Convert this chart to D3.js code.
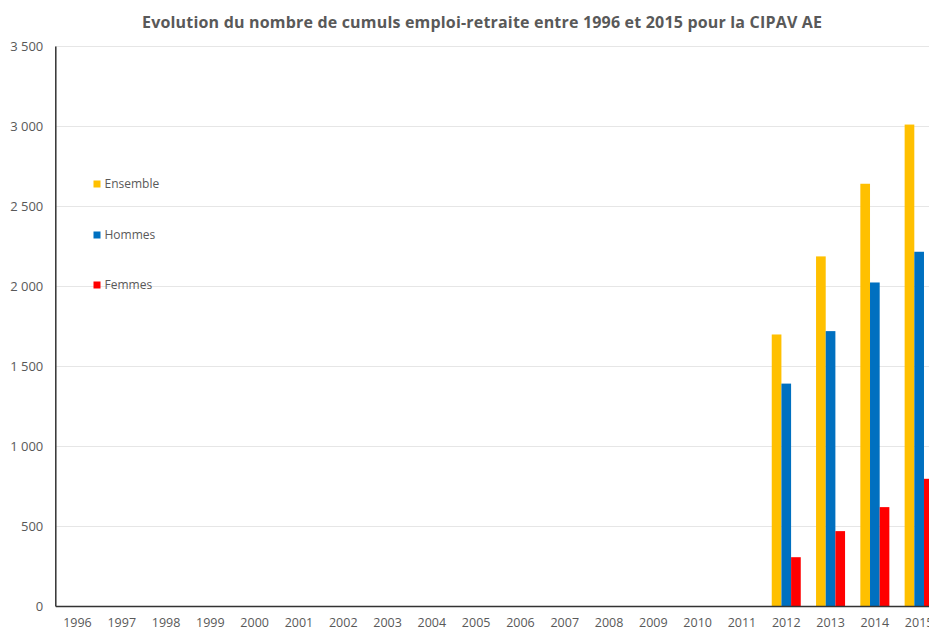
<!DOCTYPE html>
<html><head><meta charset="utf-8">
<script src="https://cdn.jsdelivr.net/npm/d3@7"></script>
<style>
html,body{margin:0;padding:0;background:#fff;overflow:hidden}
text{font-family:"Open Sans",sans-serif;fill:#595959}
</style></head>
<body><svg id="c" width="929" height="630"></svg>
<script>
const years = ["1996","1997","1998","1999","2000","2001","2002","2003","2004","2005","2006","2007","2008","2009","2010","2011","2012","2013","2014","2015"];
const seriesNames = ["Ensemble","Hommes","Femmes"];
const seriesColors = ["#FFC000","#0070C0","#FF0000"];
const ensemble = [null,null,null,null,null,null,null,null,null,null,null,null,null,null,null,null,1697,2185,2639,3009];
const hommes   = [null,null,null,null,null,null,null,null,null,null,null,null,null,null,null,null,1390,1718,2022,2214];
const femmes   = [null,null,null,null,null,null,null,null,null,null,null,null,null,null,null,null,305,468,618,795];
const yTicks = [0,500,1000,1500,2000,2500,3000,3500];
const title = "Evolution du nombre de cumuls emploi-retraite entre 1996 et 2015 pour la CIPAV AE";

const values = [ensemble, hommes, femmes];
const svg = d3.select("#c");
const left = 55.3, bandW = 44.3;
const x = d3.scaleBand().domain(years).range([left, left + bandW*years.length]).paddingInner(0).paddingOuter(0);
const y = d3.scaleLinear().domain([0,3500]).range([606, 46]);
const groupFrac = 0.655;
const xs = d3.scaleBand().domain(seriesNames).range([0, x.bandwidth()*groupFrac]).padding(0);
const groupOffset = x.bandwidth()*(1-groupFrac)/2;

const loc = d3.formatLocale({decimal:",",thousands:"\u00a0",grouping:[3],currency:["","€"]});
const fmt = loc.format(",d");

// gridlines
svg.append("g").selectAll("line").data(yTicks.filter(d=>d>0)).join("line")
  .attr("x1", left).attr("x2", 929)
  .attr("y1", d=>y(d)+0.5).attr("y2", d=>y(d)+0.5)
  .attr("stroke","#e6e6e6").attr("stroke-width",1);

// bars
seriesNames.forEach((s,i)=>{
  const data = years.map((yr,j)=>({yr, v: values[i][j]})).filter(d=>d.v!=null);
  svg.append("g").selectAll("rect").data(data).join("rect")
    .attr("x", d=>x(d.yr)+groupOffset+xs(s))
    .attr("width", xs.bandwidth())
    .attr("y", d=>y(d.v))
    .attr("height", d=>y(0)-y(d.v))
    .attr("fill", seriesColors[i]);
});

// y axis
const yAxis = d3.axisLeft(y).tickValues(yTicks).tickFormat(fmt).tickSize(0).tickPadding(12);
const ya = svg.append("g").attr("transform",`translate(${left},0)`).call(yAxis);
ya.select(".domain").attr("stroke","#333").attr("stroke-width",1.5);
ya.selectAll("text").attr("font-size","13px").attr("fill","#595959").attr("font-family","'Open Sans',sans-serif");

// x axis
const xAxis = d3.axisBottom(x).tickSize(0).tickPadding(12);
const xa = svg.append("g").attr("transform",`translate(0,${y(0)})`).call(xAxis);
xa.select(".domain").attr("stroke","#333").attr("stroke-width",1.5);
xa.selectAll("text").attr("font-size","12.5px").attr("fill","#595959").attr("font-family","'Open Sans',sans-serif");

// title
svg.append("text").attr("x",482).attr("y",27.5).attr("text-anchor","middle")
  .attr("font-size","16px").attr("font-weight","bold")
  .attr("textLength",680).attr("lengthAdjust","spacing").text(title);

// legend
const legY = [184, 235, 285];
const leg = svg.append("g");
seriesNames.forEach((s,i)=>{
  leg.append("rect").attr("x",93.5).attr("y",legY[i]-3.5).attr("width",7).attr("height",7).attr("fill",seriesColors[i]);
  leg.append("text").attr("x",104.5).attr("y",legY[i]).attr("dy","0.35em").attr("font-size","12px").text(s);
});
</script></body></html>
